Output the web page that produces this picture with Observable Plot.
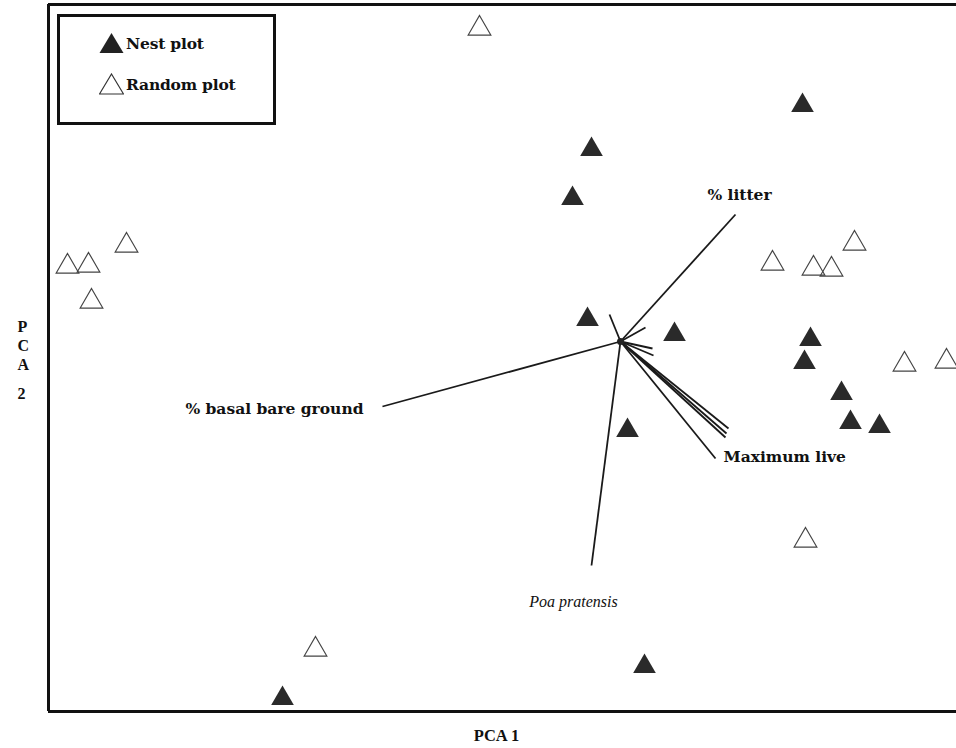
<!DOCTYPE html>
<html>
<head>
<meta charset="utf-8">
<script src="https://cdn.jsdelivr.net/npm/d3@7"></script>
<script src="https://cdn.jsdelivr.net/npm/@observablehq/plot@0.6"></script>
<style>
  html, body { margin: 0; padding: 0; background: #fff; }
  #wrap { position: relative; width: 956px; height: 748px; }
  #legend { position: absolute; left: 57px; top: 14px; width: 213px; height: 105px;
    border: 3px solid #111; background: #fff; font-family: "DejaVu Serif", "Liberation Serif", serif;
    font-weight: bold; font-size: 15.5px; color: #111; letter-spacing: -0.2px; }
  #legend .row { position: absolute; left: 39px; display: flex; align-items: center; }
  #legend svg { margin-right: 2px; }
</style>
</head>
<body>
<div id="wrap">
  <div id="chart"></div>
  <div id="legend">
    <div class="row" style="top:15px"><svg width="25" height="22"><path d="M12.5,1 L24.5,21 L0.5,21 Z" fill="#222"/></svg><span>Nest plot</span></div>
    <div class="row" style="top:56px"><svg width="25" height="22"><path d="M12.5,1 L24.5,21 L0.5,21 Z" fill="#fff" stroke="#333" stroke-width="1.2"/></svg><span>Random plot</span></div>
  </div>
</div>
<script>
// Site scores on PCA axes
const nestX = [1.82, -0.29, -0.48, -0.33, 0.54, 1.90, 1.84, 2.21, 2.30, 2.59, 0.07, 0.24, -3.38];
const nestY = [2.36, 1.92, 1.43, 0.22, 0.07, 0.02, -0.21, -0.52, -0.81, -0.85, -0.89, -3.25, -3.57];
const randomX = [-1.41, -5.53, -5.32, -4.94, -5.29, 1.52, 1.93, 2.11, 2.34, 2.84, 3.26, 1.85, -3.05];
const randomY = [3.13, 0.75, 0.76, 0.96, 0.40, 0.78, 0.73, 0.72, 0.98, -0.23, -0.20, -1.99, -3.08];

// Environmental vectors (loadings)
const vecX = [1.15, -2.38, -0.29, -0.11, 0.25, 0.32, 0.33, 1.06, 1.05, 1.08, 0.95];
const vecY = [1.27, -0.65, -2.24, 0.27, 0.14, -0.07, -0.14, -0.92, -0.96, -0.87, -1.17];
const vecLabels = ["% litter", "% basal bare ground", "Poa pratensis", "", "", "", "", "", "", "", "Maximum live"];

const xDomain = [-5.72, 3.36];
const yDomain = [-3.70, 3.37];

const nest = nestX.map((x, i) => ({x, y: nestY[i]}));
const random = randomX.map((x, i) => ({x, y: randomY[i]}));
const vecs = vecX.map((x, i) => ({x, y: vecY[i], label: vecLabels[i]}));
const labelStyle = {
  "% litter": {dx: 4, dy: -19, anchor: "middle", style: "normal", weight: "bold"},
  "% basal bare ground": {dx: -19, dy: 3, anchor: "end", style: "normal", weight: "bold"},
  "Poa pratensis": {dx: -18, dy: 36, anchor: "middle", style: "italic", weight: "normal"},
  "Maximum live": {dx: 8, dy: -1, anchor: "start", style: "normal", weight: "bold"}
};
const labeled = vecs.filter(d => d.label);

const serif = "Liberation Serif, DejaVu Serif, serif";
const wide = "DejaVu Serif, Liberation Serif, serif";
const labelMarks = labeled.map(d => {
  const s = labelStyle[d.label];
  const italic = s.style === "italic";
  return Plot.text([d], {x: "x", y: "y", text: "label", dx: s.dx, dy: s.dy, textAnchor: s.anchor,
    fontStyle: s.style, fontWeight: s.weight, fontSize: italic ? 16 : 15.5, fill: "#111",
    fontFamily: italic ? serif : wide});
});

const chart = Plot.plot({
  width: 956, height: 748,
  marginLeft: 48, marginRight: 0, marginTop: 4, marginBottom: 37,
  style: {fontFamily: serif, background: "#fff"},
  x: {domain: xDomain, axis: null},
  y: {domain: yDomain, axis: null},
  marks: [
    Plot.ruleY([yDomain[1]], {stroke: "#111", strokeWidth: 3}),
    Plot.ruleY([yDomain[0]], {stroke: "#111", strokeWidth: 3}),
    Plot.ruleX([xDomain[0]], {stroke: "#111", strokeWidth: 3}),
    Plot.link(vecs, {x1: 0, y1: 0, x2: "x", y2: "y", stroke: "#1a1a1a", strokeWidth: 1.8}),
    Plot.dot([{x: 0, y: 0}], {x: "x", y: "y", r: 3.5, fill: "#222"}),
    Plot.dot(random, {x: "x", y: "y", symbol: "triangle", r: 8.4, fill: "none", stroke: "#444", strokeWidth: 1.2}),
    Plot.dot(nest, {x: "x", y: "y", symbol: "triangle", r: 8.4, fill: "#2a2a2a", stroke: "none"}),
    ...labelMarks,
    Plot.text(["PCA 1"], {frameAnchor: "bottom", dy: 29, dx: -6, fontWeight: "bold", fontSize: 16.5, fill: "#111", fontFamily: serif}),
    Plot.text(["P\nC\nA"], {frameAnchor: "left", dx: -31, dy: -13, lineHeight: 1.2, fontWeight: "bold", fontSize: 16, fill: "#111", fontFamily: serif}),
    Plot.text(["2"], {frameAnchor: "left", dx: -31, dy: 36, fontWeight: "bold", fontSize: 16, fill: "#111", fontFamily: serif})
  ]
});
document.getElementById("chart").appendChild(chart);
</script>
</body>
</html>
